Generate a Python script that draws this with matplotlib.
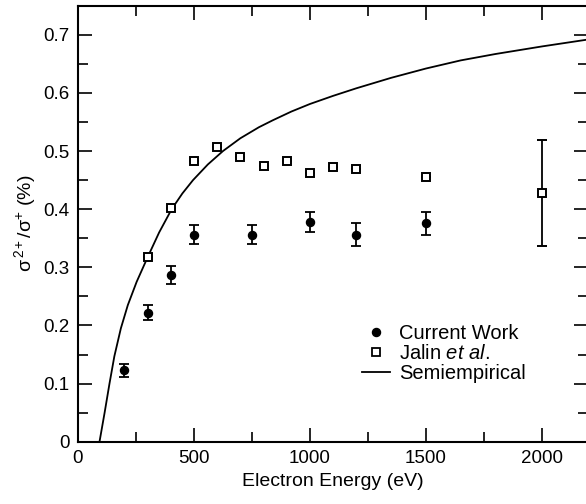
import matplotlib
matplotlib.use('Agg')
import matplotlib.pyplot as plt
from matplotlib.lines import Line2D
from matplotlib.ticker import MultipleLocator

# Current work (filled circles)
cw_energy = [200, 300, 400, 500, 750, 1000, 1200, 1500]
cw_ratio = [0.123, 0.222, 0.287, 0.356, 0.356, 0.378, 0.356, 0.376]
cw_err = [0.011, 0.013, 0.016, 0.016, 0.016, 0.017, 0.020, 0.020]

# Jalin et al. (open squares)
jalin_energy = [300, 400, 500, 600, 700, 800, 900, 1000, 1100, 1200, 1500, 2000]
jalin_ratio = [0.317, 0.402, 0.483, 0.507, 0.490, 0.475, 0.483, 0.463, 0.473, 0.469, 0.455, 0.428]
jalin_err = [0, 0, 0, 0, 0, 0, 0, 0, 0, 0, 0, 0.091]

# Semiempirical curve
semi_energy = [93, 115, 136, 157, 185, 215, 253, 300, 350, 404, 450, 496, 560, 625, 700,
               780, 840, 920, 1000, 1100, 1200, 1350, 1500, 1650, 1800, 2000, 2200]
semi_ratio = [0.0, 0.05, 0.1, 0.147, 0.195, 0.235, 0.275, 0.317, 0.36, 0.4, 0.427, 0.45, 0.477,
              0.5, 0.522, 0.541, 0.553, 0.568, 0.581, 0.595, 0.608, 0.626, 0.642, 0.656,
              0.667, 0.68, 0.692]

plt.rcParams['font.family'] = ['Liberation Sans', 'DejaVu Sans']
plt.rcParams['mathtext.fontset'] = 'custom'
plt.rcParams['mathtext.rm'] = 'Liberation Sans'
plt.rcParams['mathtext.it'] = 'Liberation Sans:italic'
plt.rcParams['mathtext.default'] = 'regular'

fig = plt.figure(figsize=(5.86, 5.04), dpi=100)
ax = fig.add_axes([0.133, 0.1236, 0.871, 0.865])

ax.plot(semi_energy, semi_ratio, color='black', lw=1.3)
ax.errorbar(cw_energy, cw_ratio, yerr=cw_err, fmt='o', color='black', ms=5.8,
            capsize=3.5, elinewidth=1.3, capthick=1.3)
ax.errorbar(jalin_energy, jalin_ratio, yerr=jalin_err, fmt='s', color='black',
            mfc='white', mec='black', mew=1.4, ms=6, capsize=3.5,
            elinewidth=1.3, capthick=1.3)

ax.set_xlim(0, 2200)
ax.set_ylim(0, 0.75)
ax.xaxis.set_major_locator(MultipleLocator(500))
ax.xaxis.set_minor_locator(MultipleLocator(250))
ax.yaxis.set_major_locator(MultipleLocator(0.1))
ax.yaxis.set_minor_locator(MultipleLocator(0.05))
ax.yaxis.set_major_formatter(plt.FuncFormatter(lambda v, p: '0' if v == 0 else f'{v:.1f}'))

ax.tick_params(which='both', direction='in', top=True, right=True, width=1.2,
               labelsize=13.5, pad=6)
ax.tick_params(which='major', length=10)
ax.tick_params(which='minor', length=7)
for s in ax.spines.values():
    s.set_linewidth(1.5)

ax.set_xlabel('Electron Energy (eV)', fontsize=14, labelpad=4)
ax.set_ylabel(r'$\sigma^{\,2+}/\sigma^{+}$ (%)', fontsize=14, labelpad=4)

# legend without error bars, like the original
handles = [
    Line2D([], [], ls='none', marker='o', color='black', ms=5.8),
    Line2D([], [], ls='none', marker='s', mfc='white', mec='black', mew=1.3, ms=5.5),
    Line2D([], [], color='black', lw=1.3),
]
labels = ['Current Work', r'Jalin $\it{et\ al.}$', 'Semiempirical']
ax.legend(handles, labels, loc='lower left', bbox_to_anchor=(0.557, 0.134), frameon=False,
          fontsize=14.5, borderpad=0, handlelength=1.4, handletextpad=0.45,
          labelspacing=0.05, borderaxespad=0)

fig.savefig('out.png', dpi=100)
